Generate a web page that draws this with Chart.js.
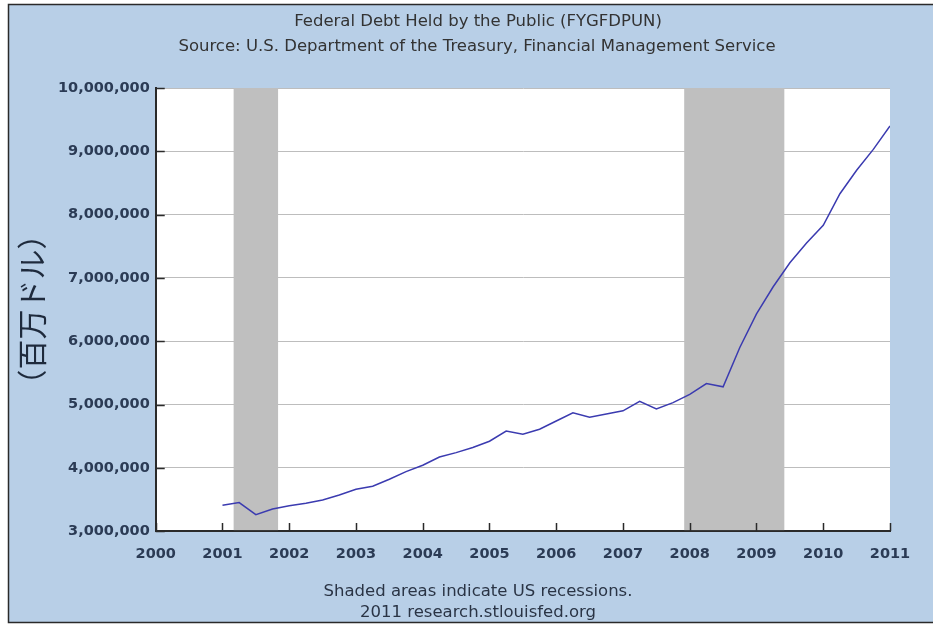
<!DOCTYPE html>
<html>
<head>
<meta charset="utf-8">
<script src="https://cdn.jsdelivr.net/npm/chart.js@4.4.1/dist/chart.umd.min.js"></script>
<style>
  body { margin: 0; background: #ffffff; }
  #wrap { width: 933px; height: 628px; }
</style>
</head>
<body>
<div id="wrap"><canvas id="chart1" width="933" height="628"></canvas></div>
<script>
// Federal Debt Held by the Public, millions of dollars, quarterly
const quarters = [
  2001.00, 2001.25, 2001.50, 2001.75,
  2002.00, 2002.25, 2002.50, 2002.75,
  2003.00, 2003.25, 2003.50, 2003.75,
  2004.00, 2004.25, 2004.50, 2004.75,
  2005.00, 2005.25, 2005.50, 2005.75,
  2006.00, 2006.25, 2006.50, 2006.75,
  2007.00, 2007.25, 2007.50, 2007.75,
  2008.00, 2008.25, 2008.50, 2008.75,
  2009.00, 2009.25, 2009.50, 2009.75,
  2010.00, 2010.25, 2010.50, 2010.75,
  2011.00
];
const debt = [
  3410000, 3450000, 3260000, 3350000,
  3400000, 3440000, 3490000, 3570000,
  3660000, 3710000, 3820000, 3940000,
  4040000, 4170000, 4240000, 4320000,
  4420000, 4580000, 4530000, 4610000,
  4740000, 4870000, 4800000, 4850000,
  4900000, 5050000, 4930000, 5030000,
  5160000, 5330000, 5280000, 5900000,
  6430000, 6860000, 7240000, 7550000,
  7830000, 8330000, 8700000, 9030000,
  9400000
];

// recessions (start, end) in decimal years
const recessionStart = [2001.167, 2007.917];
const recessionEnd = [2001.833, 2009.417];

const xTicks = [2000, 2001, 2002, 2003, 2004, 2005, 2006, 2007, 2008, 2009, 2010, 2011];
const yTicks = [3000000, 4000000, 5000000, 6000000, 7000000, 8000000, 9000000, 10000000];

const titleLines = [
  'Federal Debt Held by the Public (FYGFDPUN)',
  'Source: U.S. Department of the Treasury, Financial Management Service'
];
const footLines = [
  'Shaded areas indicate US recessions.',
  '2011 research.stlouisfed.org'
];
const yLabel = '（百万ドル）';

const tickColor = '#2b3b55';

// blue frame + white plot background
const framePlugin = {
  id: 'frame',
  beforeDraw(chart) {
    const ctx = chart.ctx;
    const a = chart.chartArea;
    ctx.save();
    ctx.fillStyle = '#b8cfe7';
    ctx.fillRect(8, 4, chart.width - 8, 619);
    ctx.strokeStyle = '#2a2a2a';
    ctx.lineWidth = 1.5;
    ctx.beginPath();
    ctx.moveTo(chart.width, 4.5);
    ctx.lineTo(8.5, 4.5);
    ctx.lineTo(8.5, 622.5);
    ctx.lineTo(chart.width, 622.5);
    ctx.stroke();
    ctx.fillStyle = '#ffffff';
    ctx.fillRect(a.left, a.top, a.right - a.left, a.bottom - a.top);
    ctx.restore();
  },
  // header and footer text, centred a bit right of the canvas middle like the original
  afterDraw(chart) {
    const ctx = chart.ctx;
    ctx.save();
    ctx.textAlign = 'center';
    ctx.textBaseline = 'middle';
    ctx.font = '16.5px "DejaVu Sans"';
    ctx.fillStyle = '#333333';
    ctx.fillText(titleLines[0], 478, 22);
    ctx.fillText(titleLines[1], 477, 47);
    ctx.fillStyle = '#2a3445';
    ctx.fillText(footLines[0], 478, 592);
    ctx.fillText(footLines[1], 478, 613);
    ctx.restore();
  }
};

// grey recession bars
const recessionPlugin = {
  id: 'recessions',
  beforeDatasetsDraw(chart) {
    const ctx = chart.ctx;
    const a = chart.chartArea;
    const x = chart.scales.x;
    ctx.save();
    ctx.fillStyle = '#bfbfbf';
    recessionStart.forEach((s, i) => {
      const x0 = x.getPixelForValue(s);
      const x1 = x.getPixelForValue(recessionEnd[i]);
      ctx.fillRect(x0, a.top, x1 - x0, a.bottom - a.top - 1);
    });
    ctx.restore();
  }
};

// short tick marks drawn inside the plot
const innerTicks = {
  id: 'innerTicks',
  afterDatasetsDraw(chart) {
    const ctx = chart.ctx;
    const a = chart.chartArea;
    const x = chart.scales.x, y = chart.scales.y;
    ctx.save();
    ctx.strokeStyle = '#2a2a2a';
    ctx.lineWidth = 1.5;
    ctx.beginPath();
    yTicks.forEach(v => {
      const py = Math.round(y.getPixelForValue(v)) + 0.5;
      ctx.moveTo(a.left, py);
      ctx.lineTo(a.left + 9, py);
    });
    xTicks.forEach(v => {
      const px = Math.round(x.getPixelForValue(v)) + 0.5;
      ctx.moveTo(px, a.bottom);
      ctx.lineTo(px, a.bottom - 8);
    });
    ctx.stroke();
    ctx.restore();
  }
};

new Chart(document.getElementById('chart1'), {
  type: 'line',
  data: {
    datasets: [{
      label: 'FYGFDPUN',
      data: quarters.map((q, i) => ({ x: q, y: debt[i] })),
      borderColor: '#3b3bb0',
      borderWidth: 1.5,
      pointRadius: 0,
      tension: 0,
      fill: false
    }]
  },
  options: {
    responsive: false,
    animation: false,
    layout: { padding: { left: 10, right: 43, top: 88, bottom: 51.5 } },
    plugins: {
      legend: { display: false },
      tooltip: { enabled: false },
      title: { display: false }
    },
    scales: {
      x: {
        type: 'linear',
        min: 2000,
        max: 2011,
        afterBuildTicks: s => { s.ticks = xTicks.map(v => ({ value: v })); },
        ticks: {
          color: tickColor,
          font: { family: 'DejaVu Sans', size: 14.5, weight: 'bold' },
          padding: 14,
          maxRotation: 0,
          callback: v => String(v)
        },
        grid: { display: false, drawTicks: false },
        border: { display: true, color: '#2a2a2a', width: 2 }
      },
      y: {
        min: 3000000,
        max: 10000000,
        afterBuildTicks: s => { s.ticks = yTicks.map(v => ({ value: v })); },
        ticks: {
          color: tickColor,
          font: { family: 'DejaVu Sans', size: 14.5, weight: 'bold' },
          padding: 6,
          callback: v => v.toLocaleString('en-US')
        },
        grid: { color: '#bdbdbd', lineWidth: 1, drawTicks: false },
        border: { display: true, color: '#2a2a2a', width: 2 },
        title: {
          display: true,
          text: yLabel,
          color: '#1e2a3c',
          font: { family: 'Noto Sans CJK JP', size: 30 },
          padding: { top: 4, bottom: 2 }
        }
      }
    }
  },
  plugins: [framePlugin, recessionPlugin, innerTicks]
});
</script>
</body>
</html>
